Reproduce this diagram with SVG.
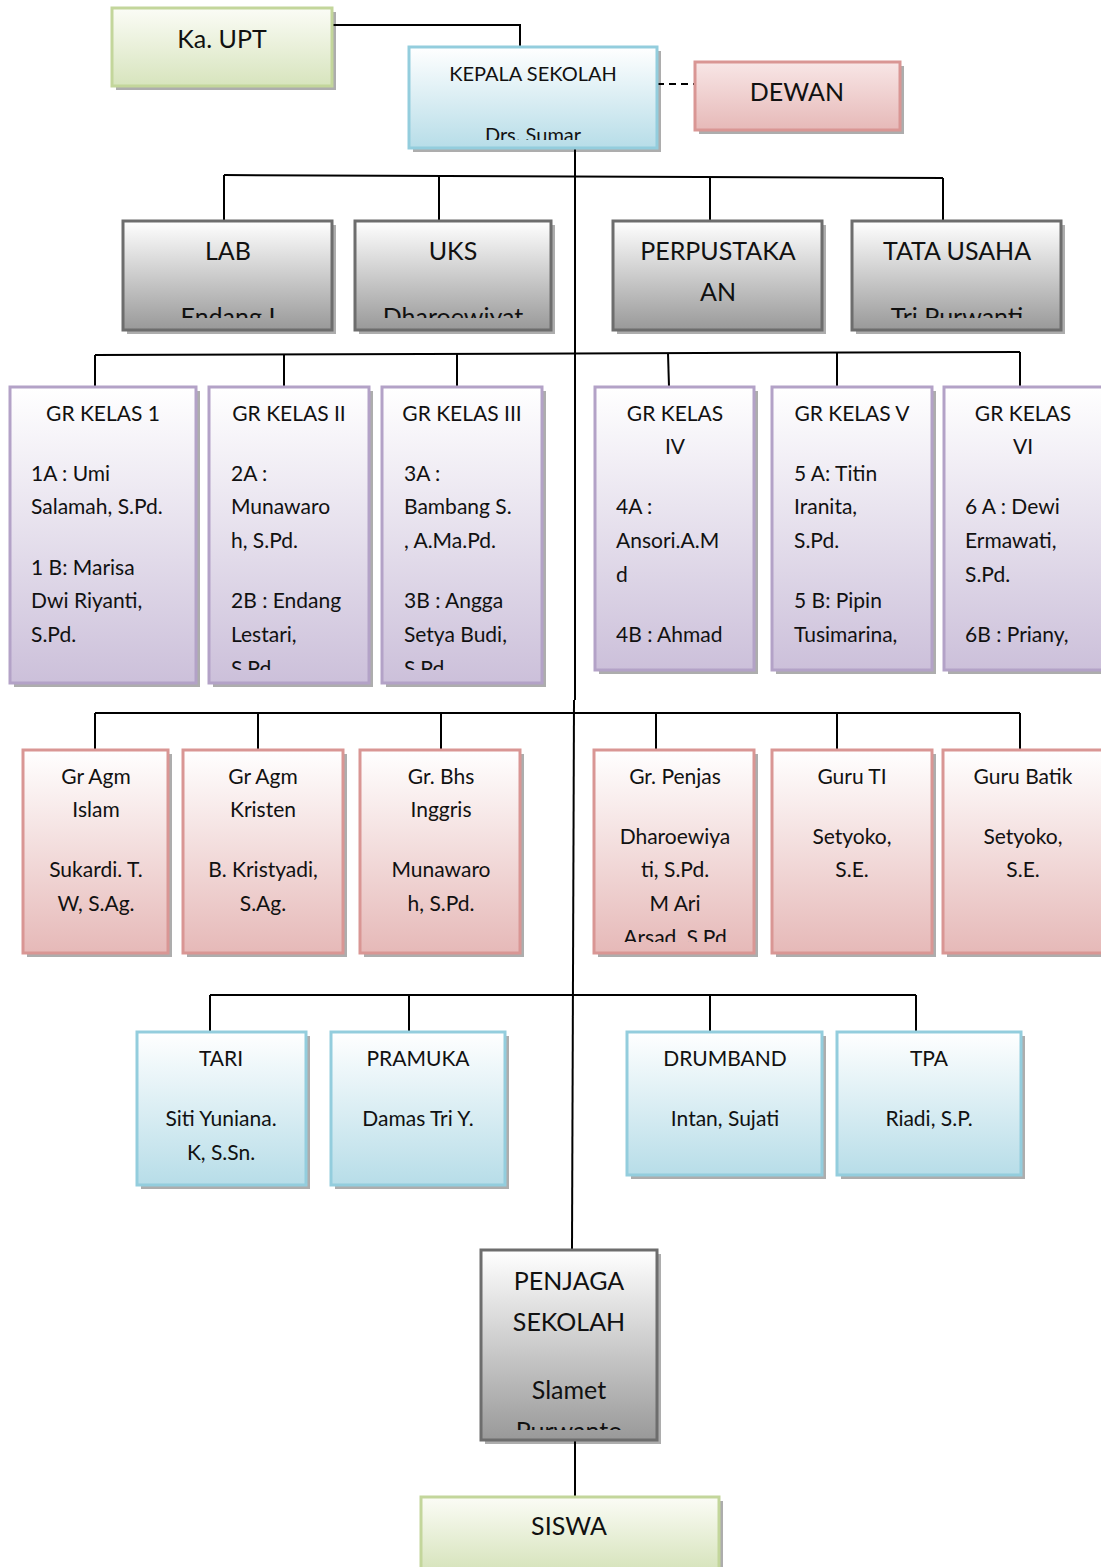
<svg xmlns="http://www.w3.org/2000/svg" width="1101" height="1567" viewBox="0 0 1101 1567">
<style>
text{font-family:Lato,"Open Sans","Liberation Sans",sans-serif;fill:#111}
.t24{font-size:25px}
.t20{font-size:21px}
.t19{font-size:20px}
.c{text-anchor:middle}
.ln{stroke:#000;stroke-width:2;fill:none}
.sh{fill:#000;opacity:0.32}
.g{fill:url(#gGray);stroke:#6d6d6d;stroke-width:3}
.b{fill:url(#gBlue);stroke:#93cddd;stroke-width:3}
.p{fill:url(#gPurple);stroke:#b3a2c7;stroke-width:3}
.r{fill:url(#gPink);stroke:#d99694;stroke-width:3}
.gr{fill:url(#gGreen);stroke:#c3d69b;stroke-width:3}
</style>
<defs>
<linearGradient id="gGray" x1="0" y1="0" x2="0" y2="1"><stop offset="0" stop-color="#ffffff"/><stop offset="1" stop-color="#999999"/></linearGradient>
<linearGradient id="gBlue" x1="0" y1="0" x2="0" y2="1"><stop offset="0" stop-color="#ffffff"/><stop offset="1" stop-color="#b7dde8"/></linearGradient>
<linearGradient id="gPurple" x1="0" y1="0" x2="0" y2="1"><stop offset="0" stop-color="#ffffff"/><stop offset="1" stop-color="#ccc0da"/></linearGradient>
<linearGradient id="gPink" x1="0" y1="0" x2="0" y2="1"><stop offset="0" stop-color="#ffffff"/><stop offset="1" stop-color="#e6b9b8"/></linearGradient>
<linearGradient id="gPinkD" x1="0" y1="0" x2="0" y2="1"><stop offset="0" stop-color="#f8e6e6"/><stop offset="1" stop-color="#e6b9b8"/></linearGradient>
<linearGradient id="gGreen" x1="0" y1="0" x2="0" y2="1"><stop offset="0" stop-color="#fbfcf6"/><stop offset="1" stop-color="#d7e4bd"/></linearGradient>
<clipPath id="cKepala"><rect x="409" y="47" width="248" height="93"/></clipPath>
<clipPath id="cLab"><rect x="123" y="221" width="209" height="97"/></clipPath>
<clipPath id="cUks"><rect x="355" y="221" width="196" height="97"/></clipPath>
<clipPath id="cTu"><rect x="852" y="221" width="209" height="97"/></clipPath>
<clipPath id="cGr2"><rect x="209" y="387" width="160" height="283"/></clipPath>
<clipPath id="cGr3"><rect x="382" y="387" width="160" height="283"/></clipPath>
<clipPath id="cPenjas"><rect x="594" y="750" width="160" height="192"/></clipPath>
<clipPath id="cPenjaga"><rect x="481" y="1250" width="176" height="180"/></clipPath>
</defs>

<g id="connectors">
<polyline class="ln" points="332,25 520,25 520,47"/>
<line class="ln" x1="657" y1="84" x2="694" y2="84" stroke-dasharray="7,5"/>
<line class="ln" x1="575" y1="148" x2="575" y2="700"/>
<line class="ln" x1="574" y1="700" x2="572" y2="1250"/>
<line class="ln" x1="575" y1="1440" x2="575" y2="1497"/>
<line class="ln" x1="224" y1="175" x2="943" y2="178"/>
<line class="ln" x1="224" y1="175" x2="224" y2="221"/>
<line class="ln" x1="439" y1="176" x2="439" y2="221"/>
<line class="ln" x1="710" y1="177" x2="710" y2="221"/>
<line class="ln" x1="943" y1="178" x2="943" y2="221"/>
<line class="ln" x1="95" y1="355" x2="1020" y2="352"/>
<line class="ln" x1="95" y1="355" x2="95" y2="387"/>
<line class="ln" x1="284" y1="354" x2="284" y2="387"/>
<line class="ln" x1="457" y1="354" x2="457" y2="387"/>
<line class="ln" x1="668" y1="353" x2="669" y2="387"/>
<line class="ln" x1="837" y1="353" x2="837" y2="387"/>
<line class="ln" x1="1020" y1="352" x2="1020" y2="387"/>
<line class="ln" x1="95" y1="713" x2="1020" y2="713"/>
<line class="ln" x1="95" y1="713" x2="95" y2="750"/>
<line class="ln" x1="258" y1="713" x2="258" y2="750"/>
<line class="ln" x1="441" y1="713" x2="441" y2="750"/>
<line class="ln" x1="656" y1="713" x2="656" y2="750"/>
<line class="ln" x1="837" y1="713" x2="837" y2="750"/>
<line class="ln" x1="1020" y1="713" x2="1020" y2="750"/>
<line class="ln" x1="210" y1="995" x2="916" y2="995"/>
<line class="ln" x1="210" y1="995" x2="210" y2="1032"/>
<line class="ln" x1="409" y1="995" x2="409" y2="1032"/>
<line class="ln" x1="710" y1="995" x2="710" y2="1032"/>
<line class="ln" x1="916" y1="995" x2="916" y2="1032"/>
</g>

<g id="ka-upt">
<rect class="sh" x="116" y="12" width="220" height="78"/>
<rect class="gr" x="112" y="8" width="220" height="78"/>
<text class="t24 c" x="222" y="48">Ka. UPT</text>
</g>

<g id="kepala-sekolah">
<rect class="sh" x="413" y="51" width="248" height="101"/>
<rect class="b" x="409" y="47" width="248" height="101"/>
<g clip-path="url(#cKepala)">
<text class="t19 c" x="533" y="81">KEPALA SEKOLAH</text>
<text class="t19 c" x="533" y="142">Drs. Sumar</text>
</g>
</g>

<g id="dewan">
<rect class="sh" x="699" y="66" width="205" height="68"/>
<rect x="695" y="62" width="205" height="68" fill="url(#gPinkD)" stroke="#d99694" stroke-width="3"/>
<text class="t24 c" x="797" y="101">DEWAN</text>
</g>

<g id="lab">
<rect class="sh" x="127" y="225" width="209" height="109"/>
<rect class="g" x="123" y="221" width="209" height="109"/>
<g clip-path="url(#cLab)">
<text class="t24 c" x="228" y="260">LAB</text>
<text class="t24 c" x="228" y="326">Endang I</text>
</g>
</g>

<g id="uks">
<rect class="sh" x="359" y="225" width="196" height="109"/>
<rect class="g" x="355" y="221" width="196" height="109"/>
<g clip-path="url(#cUks)">
<text class="t24 c" x="453" y="260">UKS</text>
<text class="t24 c" x="453" y="326">Dharoewiyat</text>
</g>
</g>

<g id="perpustakaan">
<rect class="sh" x="617" y="225" width="209" height="109"/>
<rect class="g" x="613" y="221" width="209" height="109"/>
<text class="t24 c" x="718" y="260">PERPUSTAKA</text>
<text class="t24 c" x="718" y="301">AN</text>
</g>

<g id="tata-usaha">
<rect class="sh" x="856" y="225" width="209" height="109"/>
<rect class="g" x="852" y="221" width="209" height="109"/>
<g clip-path="url(#cTu)">
<text class="t24 c" x="957" y="260">TATA USAHA</text>
<text class="t24 c" x="957" y="326">Tri Purwanti</text>
</g>
</g>

<g id="gr-kelas-1">
<rect class="sh" x="14" y="391" width="186" height="296"/>
<rect class="p" x="10" y="387" width="186" height="296"/>
<text class="t20 c" x="103" y="421">GR KELAS 1</text>
<text class="t20" x="31" y="481">1A : Umi</text>
<text class="t20" x="31" y="514">Salamah, S.Pd.</text>
<text class="t20" x="31" y="575">1 B: Marisa</text>
<text class="t20" x="31" y="608">Dwi Riyanti,</text>
<text class="t20" x="31" y="642">S.Pd.</text>
</g>

<g id="gr-kelas-2">
<rect class="sh" x="213" y="391" width="160" height="296"/>
<rect class="p" x="209" y="387" width="160" height="296"/>
<g clip-path="url(#cGr2)">
<text class="t20 c" x="289" y="421">GR KELAS II</text>
<text class="t20" x="231" y="481">2A :</text>
<text class="t20" x="231" y="514">Munawaro</text>
<text class="t20" x="231" y="548">h, S.Pd.</text>
<text class="t20" x="231" y="608">2B : Endang</text>
<text class="t20" x="231" y="642">Lestari,</text>
<text class="t20" x="231" y="676">S.Pd.</text>
</g>
</g>

<g id="gr-kelas-3">
<rect class="sh" x="386" y="391" width="160" height="296"/>
<rect class="p" x="382" y="387" width="160" height="296"/>
<g clip-path="url(#cGr3)">
<text class="t20 c" x="462" y="421">GR KELAS III</text>
<text class="t20" x="404" y="481">3A :</text>
<text class="t20" x="404" y="514">Bambang S.</text>
<text class="t20" x="404" y="548">, A.Ma.Pd.</text>
<text class="t20" x="404" y="608">3B : Angga</text>
<text class="t20" x="404" y="642">Setya Budi,</text>
<text class="t20" x="404" y="676">S.Pd.</text>
</g>
</g>

<g id="gr-kelas-4">
<rect class="sh" x="599" y="391" width="159" height="283"/>
<rect class="p" x="595" y="387" width="159" height="283"/>
<text class="t20 c" x="675" y="421">GR KELAS</text>
<text class="t20 c" x="675" y="454">IV</text>
<text class="t20" x="616" y="514">4A :</text>
<text class="t20" x="616" y="548">Ansori.A.M</text>
<text class="t20" x="616" y="582">d</text>
<text class="t20" x="616" y="642">4B : Ahmad</text>
</g>

<g id="gr-kelas-5">
<rect class="sh" x="776" y="391" width="160" height="283"/>
<rect class="p" x="772" y="387" width="160" height="283"/>
<text class="t20 c" x="852" y="421">GR KELAS V</text>
<text class="t20" x="794" y="481">5 A: Titin</text>
<text class="t20" x="794" y="514">Iranita,</text>
<text class="t20" x="794" y="548">S.Pd.</text>
<text class="t20" x="794" y="608">5 B: Pipin</text>
<text class="t20" x="794" y="642">Tusimarina,</text>
</g>

<g id="gr-kelas-6">
<rect class="sh" x="948" y="391" width="160" height="283"/>
<rect class="p" x="944" y="387" width="160" height="283"/>
<text class="t20 c" x="1023" y="421">GR KELAS</text>
<text class="t20 c" x="1023" y="454">VI</text>
<text class="t20" x="965" y="514">6 A : Dewi</text>
<text class="t20" x="965" y="548">Ermawati,</text>
<text class="t20" x="965" y="582">S.Pd.</text>
<text class="t20" x="965" y="642">6B : Priany,</text>
</g>

<g id="gr-agm-islam">
<rect class="sh" x="27" y="754" width="145" height="203"/>
<rect class="r" x="23" y="750" width="145" height="203"/>
<text class="t20 c" x="96" y="784">Gr Agm</text>
<text class="t20 c" x="96" y="817">Islam</text>
<text class="t20 c" x="96" y="877">Sukardi. T.</text>
<text class="t20 c" x="96" y="911">W, S.Ag.</text>
</g>

<g id="gr-agm-kristen">
<rect class="sh" x="187" y="754" width="160" height="203"/>
<rect class="r" x="183" y="750" width="160" height="203"/>
<text class="t20 c" x="263" y="784">Gr Agm</text>
<text class="t20 c" x="263" y="817">Kristen</text>
<text class="t20 c" x="263" y="877">B. Kristyadi,</text>
<text class="t20 c" x="263" y="911">S.Ag.</text>
</g>

<g id="gr-bhs-inggris">
<rect class="sh" x="364" y="754" width="160" height="203"/>
<rect class="r" x="360" y="750" width="160" height="203"/>
<text class="t20 c" x="441" y="784">Gr. Bhs</text>
<text class="t20 c" x="441" y="817">Inggris</text>
<text class="t20 c" x="441" y="877">Munawaro</text>
<text class="t20 c" x="441" y="911">h, S.Pd.</text>
</g>

<g id="gr-penjas">
<rect class="sh" x="598" y="754" width="160" height="203"/>
<rect class="r" x="594" y="750" width="160" height="203"/>
<g clip-path="url(#cPenjas)">
<text class="t20 c" x="675" y="784">Gr. Penjas</text>
<text class="t20 c" x="675" y="844">Dharoewiya</text>
<text class="t20 c" x="675" y="877">ti, S.Pd.</text>
<text class="t20 c" x="675" y="911">M Ari</text>
<text class="t20 c" x="675" y="945">Arsad, S.Pd</text>
</g>
</g>

<g id="guru-ti">
<rect class="sh" x="776" y="754" width="160" height="203"/>
<rect class="r" x="772" y="750" width="160" height="203"/>
<text class="t20 c" x="852" y="784">Guru TI</text>
<text class="t20 c" x="852" y="844">Setyoko,</text>
<text class="t20 c" x="852" y="877">S.E.</text>
</g>

<g id="guru-batik">
<rect class="sh" x="947" y="754" width="160" height="203"/>
<rect class="r" x="943" y="750" width="160" height="203"/>
<text class="t20 c" x="1023" y="784">Guru Batik</text>
<text class="t20 c" x="1023" y="844">Setyoko,</text>
<text class="t20 c" x="1023" y="877">S.E.</text>
</g>

<g id="tari">
<rect class="sh" x="141" y="1036" width="169" height="153"/>
<rect class="b" x="137" y="1032" width="169" height="153"/>
<text class="t20 c" x="221" y="1066">TARI</text>
<text class="t20 c" x="221" y="1126">Siti Yuniana.</text>
<text class="t20 c" x="221" y="1160">K, S.Sn.</text>
</g>

<g id="pramuka">
<rect class="sh" x="335" y="1036" width="174" height="153"/>
<rect class="b" x="331" y="1032" width="174" height="153"/>
<text class="t20 c" x="418" y="1066">PRAMUKA</text>
<text class="t20 c" x="418" y="1126">Damas Tri Y.</text>
</g>

<g id="drumband">
<rect class="sh" x="631" y="1036" width="195" height="143"/>
<rect class="b" x="627" y="1032" width="195" height="143"/>
<text class="t20 c" x="725" y="1066">DRUMBAND</text>
<text class="t20 c" x="725" y="1126">Intan, Sujati</text>
</g>

<g id="tpa">
<rect class="sh" x="841" y="1036" width="184" height="143"/>
<rect class="b" x="837" y="1032" width="184" height="143"/>
<text class="t20 c" x="929" y="1066">TPA</text>
<text class="t20 c" x="929" y="1126">Riadi, S.P.</text>
</g>

<g id="penjaga-sekolah">
<rect class="sh" x="485" y="1254" width="176" height="190"/>
<rect class="g" x="481" y="1250" width="176" height="190"/>
<g clip-path="url(#cPenjaga)">
<text class="t24 c" x="569" y="1290">PENJAGA</text>
<text class="t24 c" x="569" y="1331">SEKOLAH</text>
<text class="t24 c" x="569" y="1399">Slamet</text>
<text class="t24 c" x="569" y="1440">Purwanto</text>
</g>
</g>

<g id="siswa">
<rect class="sh" x="425" y="1501" width="298" height="70"/>
<rect class="gr" x="421" y="1497" width="298" height="72"/>
<text class="t24 c" x="569" y="1535">SISWA</text>
</g>
</svg>
